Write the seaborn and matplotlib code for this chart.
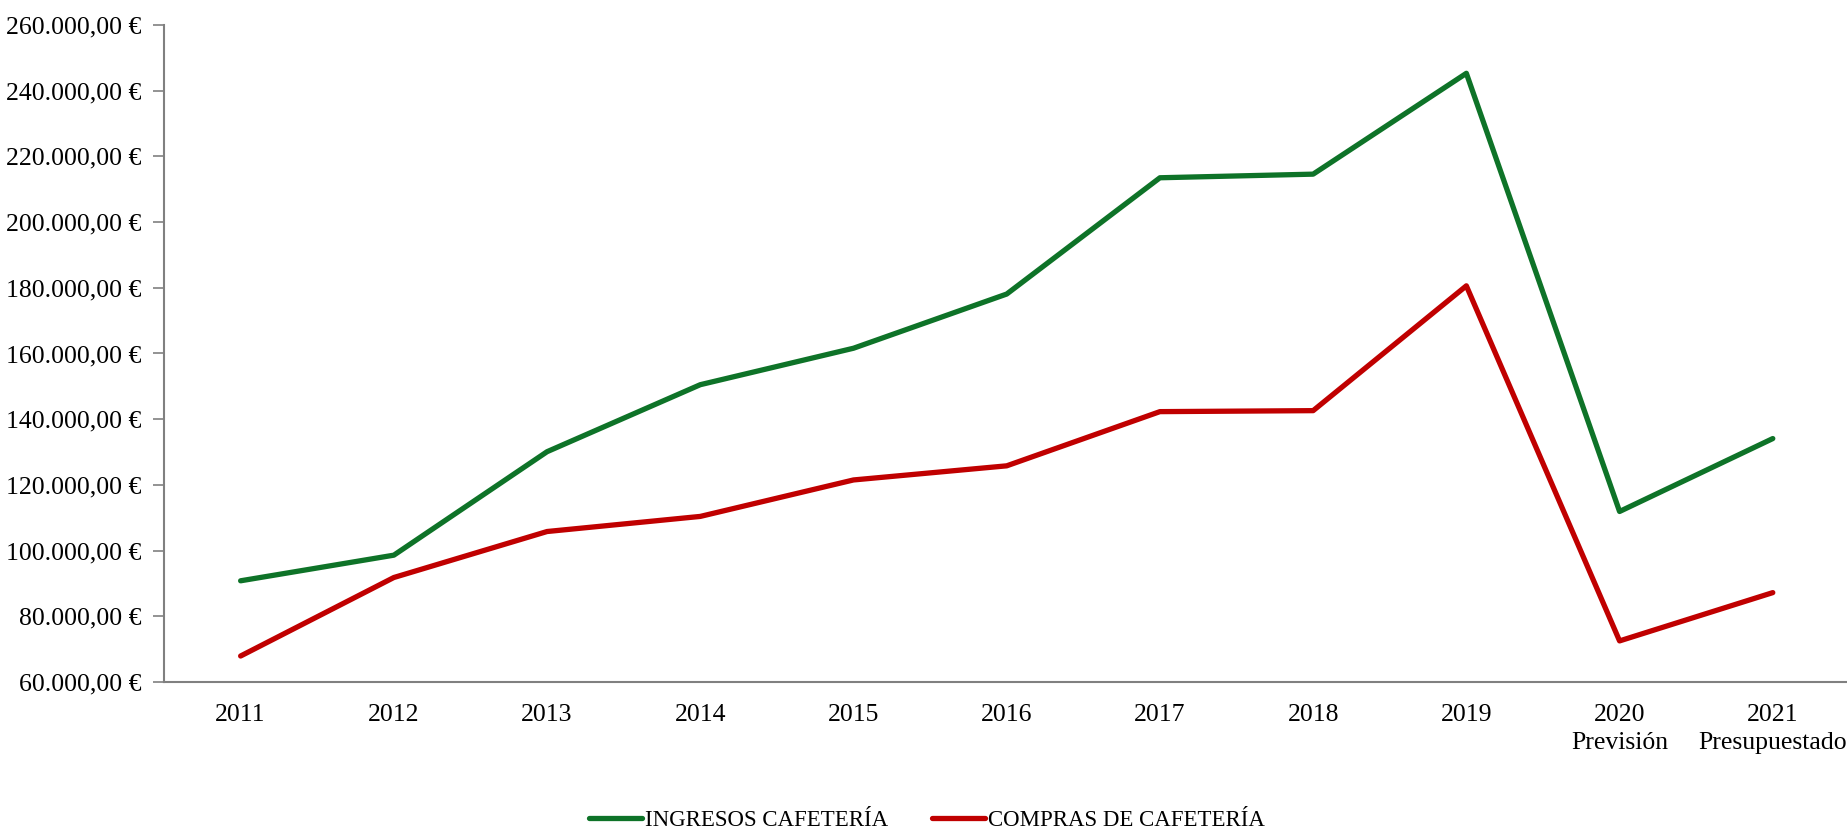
import matplotlib
matplotlib.use("Agg")
import matplotlib.pyplot as plt
import matplotlib.ticker as mticker
import seaborn as sns
import pandas as pd

categories = ["2011", "2012", "2013", "2014", "2015", "2016", "2017", "2018", "2019",
              "2020\nPrevisión", "2021\nPresupuestado"]
ingresos = [90800, 98600, 130100, 150500, 161600, 178100, 213500, 214600, 245300, 111900, 134100]
compras = [67900, 91800, 105800, 110400, 121500, 125800, 142300, 142600, 180600, 72500, 87200]
series_names = ["INGRESOS CAFETERÍA", "COMPRAS DE CAFETERÍA"]
series_colors = ["#0E7328", "#C00000"]
y_ticks = list(range(60000, 260001, 20000))

sns.set_theme(style="white")
plt.rcParams["font.family"] = ["Liberation Serif", "DejaVu Serif"]
plt.rcParams["text.color"] = "#000000"

rows = []
for name, vals in zip(series_names, [ingresos, compras]):
    for i, v in enumerate(vals):
        rows.append({"pos": i, "valor": v, "serie": name})
df = pd.DataFrame(rows)

fig = plt.figure(figsize=(18.47, 8.34), dpi=100)
ax = fig.add_axes([0.0888, 0.1823, 0.9125, 0.7877])

sns.lineplot(data=df, x="pos", y="valor", hue="serie", hue_order=series_names,
             palette=series_colors, linewidth=3.8, ax=ax, legend=True)
for ln in ax.lines:
    ln.set_solid_joinstyle("round")
    ln.set_solid_capstyle("round")

ax.set_xlim(-0.5, len(categories) - 0.5)
ax.set_ylim(60000, 260000)
ax.set_xticks(range(len(categories)))
ax.set_xticklabels(categories, fontsize=18.5, color="#000000",
                   multialignment="center", linespacing=1.35)
ax.set_yticks(y_ticks)

def fmt(v, pos):
    s = f"{v:,.2f}".replace(",", "X").replace(".", ",").replace("X", ".")
    return s + " €"

ax.yaxis.set_major_formatter(mticker.FuncFormatter(fmt))
ax.tick_params(axis="y", labelsize=18.5, length=8, width=1.2, color="#808080",
               direction="out", left=True, pad=8, labelcolor="#000000")
ax.tick_params(axis="x", length=0, pad=16)
ax.set_xlabel("")
ax.set_ylabel("")
for s in ["top", "right"]:
    ax.spines[s].set_visible(False)
for s in ["left", "bottom"]:
    ax.spines[s].set_color("#808080")
    ax.spines[s].set_linewidth(1.5)
ax.grid(False)

handles, labels = ax.get_legend_handles_labels()
ax.legend_.remove()
leg = fig.legend(handles, labels, loc="center", bbox_to_anchor=(0.502, 0.016), ncol=2,
                 frameon=False, fontsize=16.5, handlelength=2.3, handletextpad=0.15,
                 columnspacing=1.9)
for t in leg.get_texts():
    t.set_color("#000000")

fig.savefig("out.png", dpi=100, facecolor="white")
